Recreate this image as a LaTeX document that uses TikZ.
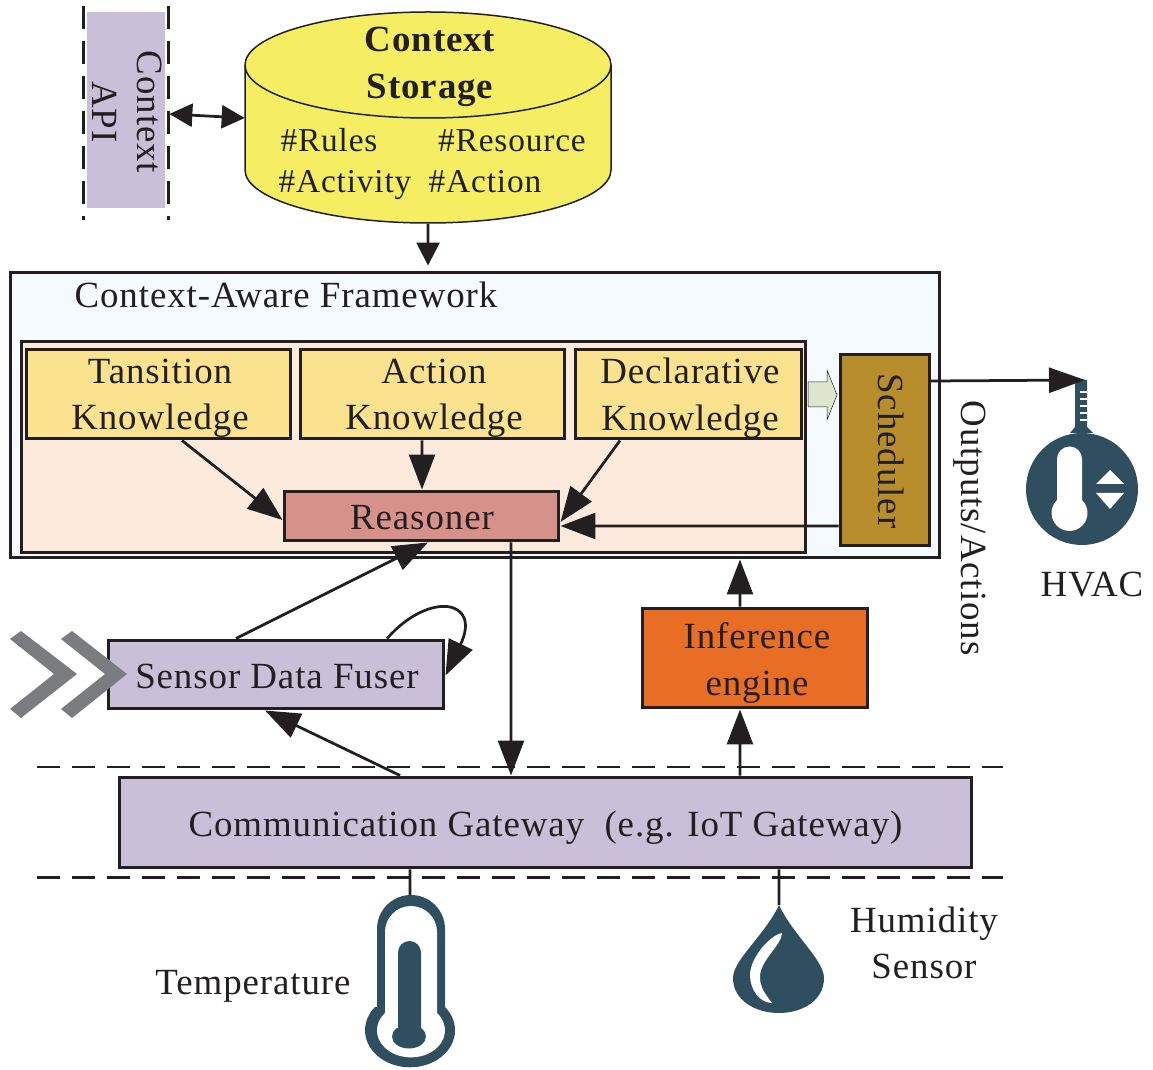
\documentclass[tikz,border=0pt]{standalone}
\usepackage{fontspec}
\setmainfont[LetterSpace=2.5]{Liberation Serif}
\usetikzlibrary{arrows.meta,positioning}
\definecolor{ink}{HTML}{231F20}
\definecolor{iconblue}{HTML}{2F4F60}
\definecolor{lilac}{HTML}{C9BFD9}
\definecolor{chevgray}{HTML}{7B7C7F}
\definecolor{storagefill}{HTML}{F5EE63}
\definecolor{knowfill}{HTML}{FBE28F}
\definecolor{framefill}{HTML}{F4FAFD}
\definecolor{innerfill}{HTML}{FCEBDD}
\definecolor{reasonfill}{HTML}{D6928A}
\definecolor{schedfill}{HTML}{B88E2D}
\definecolor{inferfill}{HTML}{E96E25}
\definecolor{feedfill}{HTML}{DDE5CF}
\tikzset{
  every node/.style={text=ink,font=\fontsize{21}{23}\selectfont,align=center,inner sep=0pt},
  block/.style={draw=ink,line width=0.06cm},
  knowbox/.style={block,fill=knowfill,minimum height=1.8cm},
  tagtext/.style={font=\fontsize{19}{23}\selectfont,anchor=base},
  flow/.style={-{Triangle[length=0.7cm,width=0.52cm]},draw=ink,line width=0.055cm},
  flowsmall/.style={-{Triangle[length=0.46cm,width=0.46cm]},draw=ink,line width=0.055cm},
  flowboth/.style={{Triangle[length=0.46cm,width=0.46cm]}-{Triangle[length=0.46cm,width=0.46cm]},draw=ink,line width=0.055cm},
  flowlong/.style={-{Triangle[length=0.72cm,width=0.5cm]},draw=ink,line width=0.055cm},
  plainlink/.style={draw=ink,line width=0.055cm},
  guide/.style={draw=ink,line width=0.06cm,dash pattern=on 0.46cm off 0.24cm},
  chevron/.style={fill=chevgray},
  icon/.style={fill=iconblue},
}
\begin{document}
\begin{tikzpicture}[x=0.02cm,y=-0.02cm]
\useasboundingbox (0,0) rectangle (1153,1070);
% top row
\node (api) [fill=lilac,minimum width=1.56cm,minimum height=3.92cm] at (126,110) {};
\node (apitext) [rotate=-90] at (127,112) {Context\\[0.1cm]API};
\draw[guide] (83,6) -- (83,220);
\draw[guide] (168,6) -- (168,220);
\node (storage) [minimum width=7.32cm,minimum height=4.22cm] at (428,118) {};
\draw[draw=ink,line width=0.03cm,fill=storagefill] (245,65) arc (180:360:183 and 53) -- (611,170) arc (0:180:183 and 53) -- cycle;
\draw[draw=ink,line width=0.03cm] (611,65) arc (0:180:183 and 53);
\node (storagetext) [font=\fontsize{21}{23}\selectfont\bfseries] at (430,67) {Context\\[0.12cm]Storage};
\node (rules) [tagtext] at (329,152) {\#Rules};
\node (resource) [tagtext] at (512,152) {\#Resource};
\node (activity) [tagtext] at (345,193) {\#Activity};
\node (action) [tagtext] at (485,193) {\#Action};
% framework
\node (frame) [block,fill=framefill,minimum width=18.6cm,minimum height=5.72cm] at (475,415) {};
\node (frametext) at (286,295) {Context-Aware Framework};
\node (inner) [block,fill=innerfill,minimum width=15.7cm,minimum height=4.24cm] at (413.5,447) {};
\node (tk) [knowbox,minimum width=5.3cm] at (158.5,394) {};
\node (ak) [knowbox,minimum width=5.3cm] at (432.5,394) {};
\node (dk) [knowbox,minimum width=4.54cm] at (688.5,394) {};
\node (tktext) at (160,398) {Tansition\\[0.12cm]Knowledge};
\node (aktext) at (434,398) {Action\\[0.12cm]Knowledge};
\node (dktext) at (690,398) {Declarative\\[0.12cm]Knowledge};
\node (rs) [block,fill=reasonfill,minimum width=5.5cm,minimum height=1cm] at (421.5,516) {};
\node (rstext) at (422,518) {Reasoner};
\node (sched) [block,fill=schedfill,minimum width=1.78cm,minimum height=3.84cm] at (884.5,450) {};
\node (schedtext) [rotate=-90] at (891,451) {Scheduler};
\draw[draw=ink,line width=0.01cm,fill=feedfill] (808,382) -- (827,382) -- (827,370) -- (837,395) -- (827,420) -- (827,407) -- (808,407) -- cycle;
% middle row
\node (sf) [block,fill=lilac,minimum width=6.72cm,minimum height=1.38cm] at (276,674.5) {};
\node (sftext) at (277,676) {Sensor Data Fuser};
\node (ie) [block,fill=inferfill,minimum width=4.52cm,minimum height=2cm] at (755,658) {};
\node (ietext) at (757,663) {Inference\\[0.12cm]engine};
\node (gw) [block,fill=lilac,minimum width=17.06cm,minimum height=1.82cm] at (545.5,822.5) {};
\node (gwtext) at (545.5,828) {Communication Gateway~~(e.g. IoT Gateway)};
\draw[guide] (37,767) -- (1003,767);
\draw[guide] (37,877) -- (1003,877);
\fill[chevron] (10,639) -- (21,631) -- (77,674) -- (21,718) -- (10,709) -- (54,674) -- cycle;
\fill[chevron] (61,639) -- (72,631) -- (127,674) -- (72,718) -- (61,709) -- (105,674) -- cycle;
% labels
\node (outputs) [rotate=-90] at (970,528) {Outputs/Actions};
\node (hvactext) at (1092,585) {HVAC};
\node (temptext) at (253,986) {Temperature};
\node (humtext) at (924,943) {Humidity\\[0.12cm]Sensor};
% hvac icon
\coordinate (hvac) at (1085,380);
\fill[icon] (1082,489) circle (56);
\fill[icon] (1075,384) -- (1078,380) -- (1087,380) -- (1087,427) -- (1093,433) -- (1070,433) -- (1075,427) -- cycle;
\foreach \y in {391,398,405,412,419} \fill[white] (1080,\y) rectangle (1087,\y+2.4);
\fill[white] (1057,459) arc (180:360:12.5) -- (1082,500) arc (-46:226:18) -- cycle;
\fill[white] (1110,470) -- (1124,484) -- (1096,484) -- cycle;
\fill[white] (1096,493) -- (1124,493) -- (1110,509) -- cycle;
% temperature icon
\coordinate (temp) at (410,895);
\fill[icon] (377,1007) -- (377,929) arc (180:360:34) -- (445,1007) arc (-39:219:45 and 37) -- cycle;
\fill[white] (385,1013) -- (385,932) arc (180:360:26) -- (437,1013) arc (-40:220:34 and 27) -- cycle;
\fill[icon] (398,1028) -- (398,952.5) arc (180:360:11.5) -- (421,1028) arc (-45:225:17 and 12) -- cycle;
% humidity icon
\coordinate (drop) at (779,905);
\fill[icon] (779,905) .. controls (765,935) and (733,960) .. (733,978) .. controls (733,1000) and (755,1013) .. (779,1013) .. controls (803,1013) and (824,1000) .. (824,978) .. controls (824,960) and (793,935) .. (779,905) -- cycle;
\fill[white] (782,933) .. controls (770,935) and (750,958) .. (750,975) .. controls (750,990) and (760,1003) .. (772,1003) .. controls (766,995) and (760,988) .. (760,977) .. controls (760,960) and (782,945) .. (782,933) -- cycle;
% connectors
\draw[flowboth] ([xshift=0.08cm,yshift=-0.08cm]api.east) -- (storage.west);
\draw[flowsmall] (storage.south) -- ([xshift=-0.94cm,yshift=0.1cm]frame.north);
\draw[flow] ([xshift=0.47cm]tk.south) -- ([yshift=-0.08cm]rs.west);
\draw[flow] ([xshift=-0.21cm]ak.south) -- ([xshift=0.01cm]rs.north);
\draw[flow] ([xshift=-1.37cm]dk.south) -- ([yshift=-0.12cm]rs.east);
\draw[flow] ([yshift=-1.52cm]sched.west) -- ([yshift=-0.2cm]rs.east);
\draw[flow] ([xshift=1.79cm]rs.south) -- ([xshift=-0.69cm]gw.north);
\draw[flow] ([xshift=-0.8cm]sf.north) -- ([xshift=0.13cm]rs.south);
\draw[flow] ([xshift=-2.91cm]gw.north) -- ([xshift=-0.22cm]sf.south);
\draw[flow] ([xshift=3.89cm]gw.north) -- ([xshift=-0.3cm]ie.south);
\draw[flow] ([xshift=-0.3cm]ie.north) -- ([xshift=5.3cm]frame.south);
\draw[flowlong] ([yshift=1.38cm]sched.east) -- (hvac);
\draw[flow] ([xshift=2.22cm]sf.north) .. controls (430,590) and (482,600) .. ([yshift=-0.02cm]sf.east);
\draw[plainlink] ([xshift=-2.71cm]gw.south) -- (temp);
\draw[plainlink] ([xshift=4.67cm]gw.south) -- (drop);
\end{tikzpicture}
\end{document}
